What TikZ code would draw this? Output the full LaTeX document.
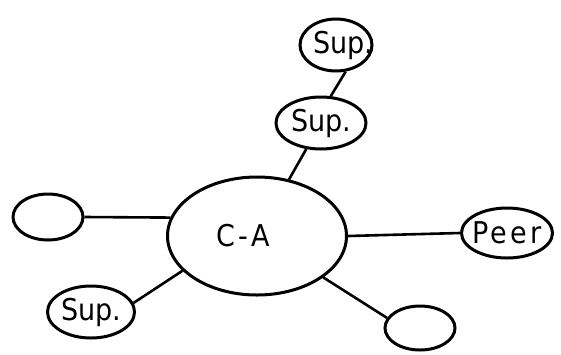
\documentclass[tikz,border=0pt]{standalone}
\usepackage{fontspec}
\newfontfamily\lett{DejaVu Sans Condensed}
\newfontfamily\wide[LetterSpace=11]{DejaVu Sans Condensed}
\usetikzlibrary{shapes.geometric}
\newcommand{\ztext}[2][0pt]{\makebox[0pt]{\hspace*{#1}#2}}
\tikzset{
  bubble/.style={ellipse, draw, line width=3pt, inner sep=0pt, font=\lett\fontsize{30}{33}\selectfont},
  spaced/.style={font=\wide\fontsize{30}{33}\selectfont},
  link/.style={line width=2.6pt}
}
\begin{document}
\begin{tikzpicture}[x=1pt,y=-1pt]
\useasboundingbox (0,0) rectangle (561,354);
\node[bubble, minimum width=72pt, minimum height=52pt] (s1) at (336,45) {\ztext[14pt]{Sup.}};
\node[bubble, minimum width=90pt, minimum height=52pt] (s2) at (321,123) {\ztext{Sup.}};
\node[bubble, spaced, minimum width=179pt, minimum height=118pt] (ca) at (257,236) {\ztext[-28pt]{C-A}};
\node[bubble, minimum width=70pt, minimum height=46pt] (l) at (48,217) {};
\node[bubble, spaced, minimum width=91pt, minimum height=50pt] (peer) at (507,233) {\ztext{Peer}};
\node[bubble, minimum width=87pt, minimum height=52pt] (s3) at (91,312) {\ztext{Sup.}};
\node[bubble, minimum width=70pt, minimum height=44pt] (br) at (420,328) {};
\draw[link] (s1.-70) -- (s2.70);
\draw[link] (s2) -- (ca);
\draw[link] (l.east) -- (ca.168);
\draw[link] (ca.east) -- (peer.west);
\draw[link] (ca.205) -- (s3.12);
\draw[link] (ca.-32) -- (br.163);
\end{tikzpicture}
\end{document}
